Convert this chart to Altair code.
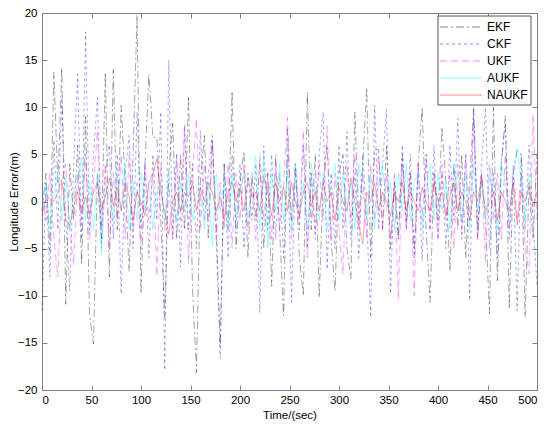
import altair as alt
import pandas as pd

# time axis (sec), one sample every 4 s
time = list(range(0, 501, 4))

ekf = [-1, 3, -5.3, 13.7, 2, 14.2, -10.9, 4, -2, 6,
       -6.7, 9, -12, -15.1, 3, -4, 13.7, -8, 14, -3,
       10.2, 2, -7.4, 5, 19.8, -9.8, 4, 13.5, 6.8, 6.8,
       -2, -12.3, 3, 8.3, -4, 5, -3, 11.2, -9, -18.2,
       2, 7, -4, 6.5, -2, -15.4, 4, -3, 11.7, -5,
       2, 5.3, -6, 3, -2, 4, -5, 3, -9, 5,
       -3, -12.1, 7.7, -2, 4, -6, -10, 11.6, -3, 5,
       -10.2, 2, 6, -4, -9.5, 3, 5, -5, -8.2, 9.5,
       -2, 4, 12.1, -6, 5.5, 5.5, -3, 6, -5, 2,
       -4, 5, -2, 3, -6, 4, 10, -3, -10.7, 3,
       -2, 7.9, 2, -7.4, 4, -3, 5, -6, 2, 9.8,
       -4, 3, -2, -11.9, 10, -8.4, 4, 9.1, -11.4, 3,
       5.4, 5, -12.3, 2, -4, 5]

ckf = [-11.6, 2, -8, 6.5, -3, 11, -2, -9.5, 4, 13.5,
       -4, 18, -3, 5, 11, -5, 3, 6, -4, 5,
       -9.8, 3, 7, -5, 9.5, -3, 4, -6, 5, -2,
       9.5, -17.9, 15, -4, 5, -7, 8, -3, 4, -5,
       7.5, -2, 3, 7, -4, -16.7, 4, -6, 5, -3,
       4, -5, 3, -2, 4, -11.8, 5.9, -3, 5, -4,
       3, -6, 5, -10.7, 4, -3, 6, -5, 3, -4,
       5, 9.5, -7.2, 3, -5, 6, -3, 7.4, -4, 3,
       -6, 5, -2, -12.3, 10.2, -3, 4, 9.8, -9.8, 3,
       -4, 6, -3, 5, -5, 4, -6.3, 5, -3, 6,
       -4, 3, -5, 6, -2, 8.8, -4, 5, -10.5, 10,
       -3, 4, 10, -5, 3, -6, 4, 8.4, -4, 3,
       -11.6, 5, -3, 6, -2, -9]

ukf = [0.7, -2, 3, -4, -8, 2, 4, -3, -6.7, 3,
       -2, 5, -4, 2, 7.5, -3, 4, -5, 3, -2,
       5, -4, 5, -3, 2, -5, 4, -2, 3, -7.9,
       4, -3, 2, -4, 5, -2, 8.2, -6.5, 3, 8.8,
       -3, 4, -2, 6.5, -4, 2, -3, 4, -5, 3,
       -2, 4, -3, 2, -4, 5, -2, 3, -4, 4,
       -3, 2, 8.9, -4, 3, -2, 7.5, -6, 3, -3,
       4, -2, 8, -4, 3, -3, -7.7, 4, -2, 5,
       -3, 3, -4, 4, -2, 5, -3, 3, -4, 2,
       -10.4, 4, -3, 3, -10, 4, -2, 5, -3, 3,
       -4, 4, -2, 3, -5, 4, -3, 5, -2, 8.8,
       -4, 3, -6.5, 4, -2, 3, -4, 5, -3, 4,
       -2, 3, -5, -7.7, 9.3, -2]

aukf = [-1, 2, -3, 1, 3, -2, 2.5, -3, 1, 2,
        4.6, -2, 2, -3, 3, -5.6, 2, 1, -2, 3,
        -1, 4, -3, 2, -2, 3, -1, 2, -3, 1,
        2, -2, 3, 0, -2, 2, -1, 3, -2, 1,
        2, -3, 2, -4.7, 3, -1, 2, -3, 3, -2,
        1, 3, -2, 2, 4.9, -3, 5, -4.9, 3, -1,
        4, -2, 3, -3, 4, -1, 2, -3, 4, 1,
        -2, 3, -3, 2, 4, -2, 3, -1, 2, -3,
        4, 1, -2, 3, -3, 2, 4, -1, 2, -3,
        3, -1, 4, -2, 2, 3, -3, 1, 4, -2,
        3, -1, 2, -3, 4, 1, -2, 3, -3, 4,
        -1, 2, -2, 3, 1, -3, 4, 2, -2, 3,
        5.6, 2, -2, 3, -1, -2]

naukf = [-1.5, 0.5, 0.3, 0, 1, 2.3, -2, -2.5, -0.5, 1,
         -1, 0.5, -1.5, 1, 2, -1, 0.5, 2.5, -0.5, 1.5,
         -1, 2, 0.5, -2, 1, 0, -1.5, 2, 3, 4.5,
         1, -1, -3.5, 0, 1, -1, 1, 0.5, 2, -1,
         1.5, 0, 2, 1, -1, 0.5, -2, 1, 2, 0,
         1.5, -1, 2.5, 0.5, 1, -1, 2.6, 1, -1.5, 2,
         0, 1.5, -1, 2, 0, -1.5, 1, 2, -0.5, 1,
         -1, 2, 0, 1, -2, 1.5, 0, -1, 2.5, 0,
         -2.5, -4.5, 1, 0, 2, -1, 1, 0, -1.5, 1,
         0, 2, -1, 1, 0, -1, 1.5, 0, -1, 2,
         0, 1, -1.5, 0.5, 2, -1, 1, 0, -2, 1,
         0, 2.5, -1, 0, 1, -2, 1, 0, -1, 2,
         -2.5, 1, 0, 1.5, -0.5, 1]

series_names = ["EKF", "CKF", "UKF", "AUKF", "NAUKF"]
series_values = [ekf, ckf, ukf, aukf, naukf]
colors = ["#000000", "#0000ff", "#ff00ff", "#00ffff", "#ff0000"]
dashes = [[8, 3, 2, 3], [3, 3], [7, 4], [1, 0], [1, 0]]

x_ticks = [0, 50, 100, 150, 200, 250, 300, 350, 400, 450, 500]
y_ticks = [-20, -15, -10, -5, 0, 5, 10, 15, 20]

rows = []
for name, vals in zip(series_names, series_values):
    for t, v in zip(time, vals):
        rows.append({"t": t, "v": v, "series": name})
df = pd.DataFrame(rows)
legend_df = pd.DataFrame({"series": series_names})
box_df = pd.DataFrame({"k": [0]})

FONT = "Liberation Sans"
PLOT_W = 495
PLOT_H = 377
x_scale = alt.Scale(domain=[0, 500], nice=False, zero=False)
y_scale = alt.Scale(domain=[-20, 20], nice=False, zero=False)
color_scale = alt.Scale(domain=series_names, range=colors)
dash_scale = alt.Scale(domain=series_names, range=dashes)

lines = alt.Chart(df).mark_line(strokeWidth=0.5, opacity=0.7).encode(
    x=alt.X("t:Q", scale=x_scale,
            axis=alt.Axis(values=x_ticks, title="Time/(sec)", ticks=False, domain=False,
                          grid=False, labelPadding=4, labelFontSize=11.5, labelFont=FONT,
                          labelColor="#000000", titleFont=FONT, titleFontSize=11.5,
                          titleFontWeight="normal", titleColor="#000000",
                          titleY=25, titleBaseline="middle")),
    y=alt.Y("v:Q", scale=y_scale,
            axis=alt.Axis(values=y_ticks, title="Longitude Error/(m)", ticks=False, domain=False,
                          grid=False, labelPadding=5, labelFontSize=11.5, labelFont=FONT,
                          labelColor="#000000", titleFont=FONT, titleFontSize=11.5,
                          titleFontWeight="normal", titleColor="#000000",
                          titleX=-28, titleY=PLOT_H / 2, titleBaseline="middle", titleAlign="center",
                          titleAngle=270)),
    color=alt.Color("series:N", scale=color_scale, legend=None),
    strokeDash=alt.StrokeDash("series:N", scale=dash_scale, legend=None),
)

tick_axis_common = dict(labels=False, domain=False, grid=False, tickSize=5, tickColor="#808080",
                        offset=-5, title=None)

ticks_bl = alt.Chart(df).mark_line(opacity=0).encode(
    x=alt.X("t:Q", scale=x_scale, axis=alt.Axis(values=x_ticks, orient="bottom", **tick_axis_common)),
    y=alt.Y("v:Q", scale=y_scale, axis=alt.Axis(values=y_ticks, orient="left", **tick_axis_common)),
)

ticks_tr = alt.Chart(df).mark_line(opacity=0).encode(
    x=alt.X("t:Q", scale=x_scale, axis=alt.Axis(values=x_ticks, orient="top", **tick_axis_common)),
    y=alt.Y("v:Q", scale=y_scale, axis=alt.Axis(values=y_ticks, orient="right", **tick_axis_common)),
)

# legend drawn as its own layer
legend_y = alt.Y("series:N", scale=alt.Scale(type="point", domain=series_names, range=[14, 82], padding=0),
                 axis=None)

legend_box = alt.Chart(box_df).mark_rect(fill="#ffffff", stroke="#555555", strokeWidth=1).encode(
    x=alt.value(396), x2=alt.value(489), y=alt.value(3), y2=alt.value(92)
)

legend_lines = alt.Chart(legend_df).mark_rule(strokeWidth=0.8, opacity=0.6).encode(
    x=alt.value(398), x2=alt.value(440), y=legend_y,
    color=alt.Color("series:N", scale=color_scale, legend=None),
    strokeDash=alt.StrokeDash("series:N", scale=dash_scale, legend=None),
)

legend_text = alt.Chart(legend_df).mark_text(
    align="left", baseline="middle", font=FONT, fontSize=12, color="#000000"
).encode(
    x=alt.value(445), y=legend_y, text="series:N"
)

chart = alt.layer(ticks_bl, ticks_tr, lines, legend_box, legend_lines, legend_text).resolve_scale(
    y="independent"
).resolve_axis(
    x="independent", y="independent"
).properties(
    width=PLOT_W, height=PLOT_H,
    padding={"left": 34, "top": 5, "right": 5, "bottom": 35},
    autosize=alt.AutoSizeParams(type="none"),
    background="#ffffff",
).configure_view(stroke="#808080", strokeWidth=1)

chart.save("out.html", embed_options={"renderer": "svg", "actions": False})
